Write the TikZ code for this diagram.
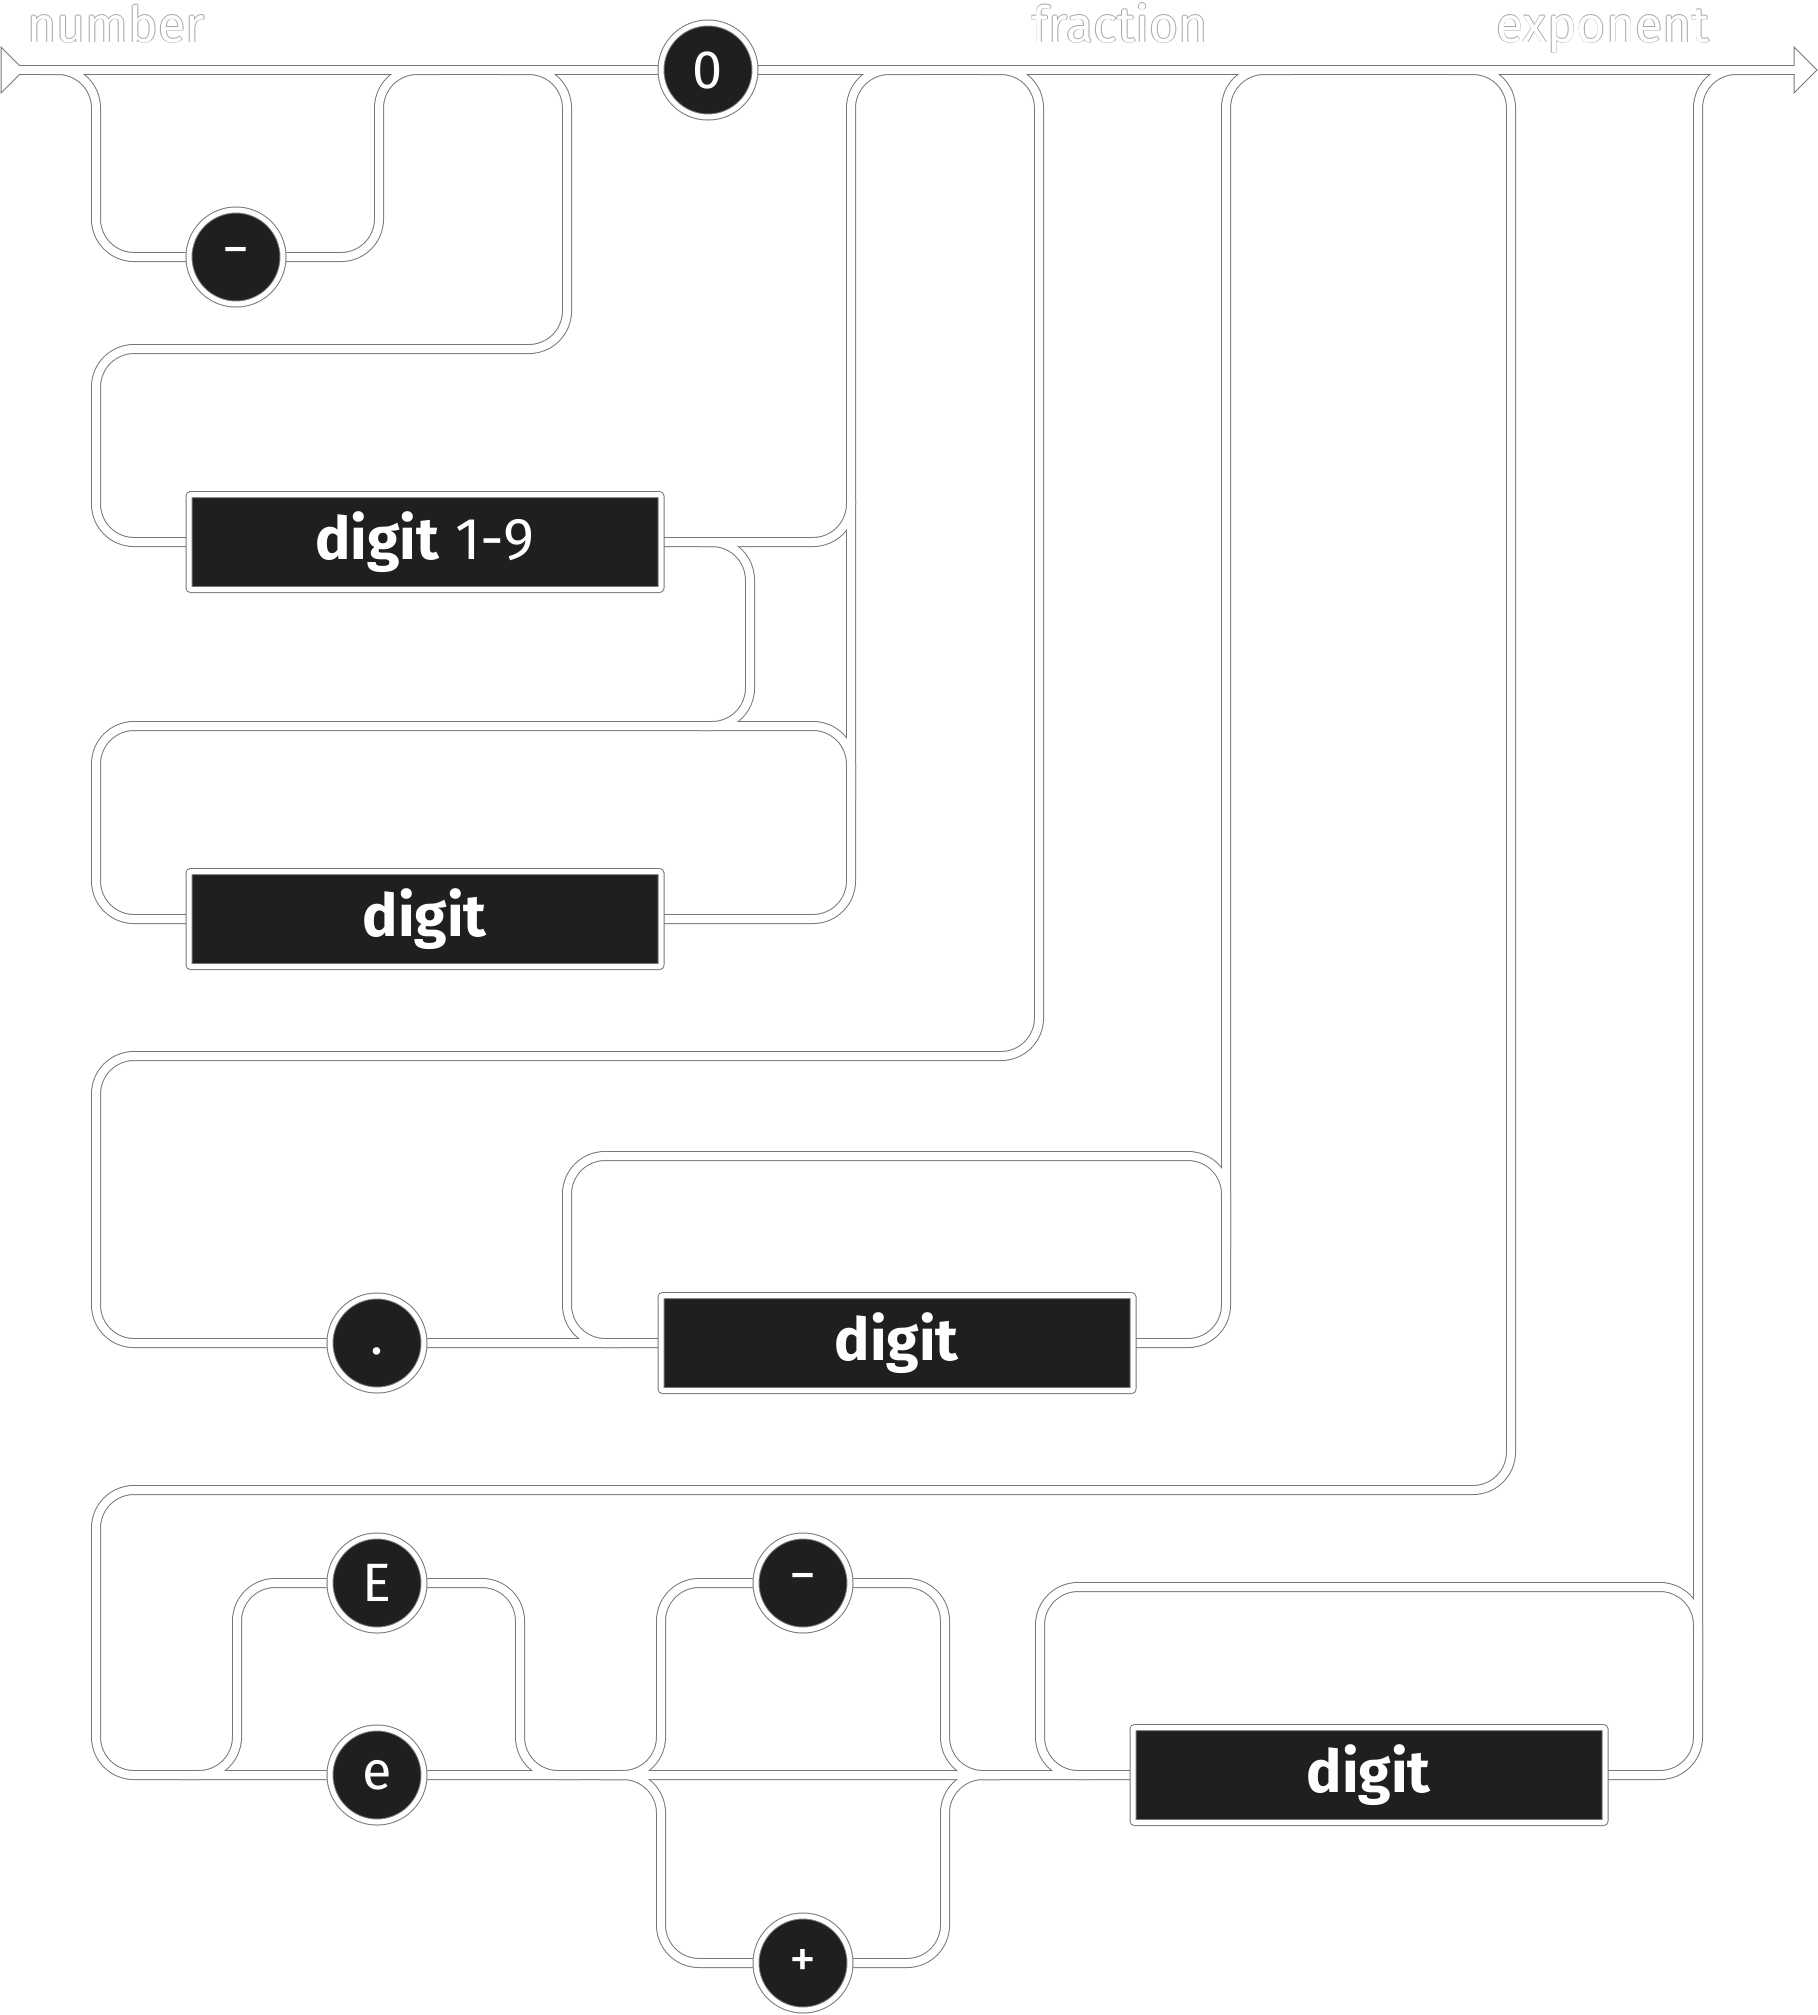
\documentclass[tikz,border=0pt]{standalone}
\usepackage{fontspec}
\setmainfont{Fira Sans}
\usepackage{tikz}

\definecolor{ink}{HTML}{1F1F1F}
\definecolor{railgray}{HTML}{7A786E}

\pgfdeclarelayer{edgelayer}
\pgfdeclarelayer{endlayer}
\pgfdeclarelayer{corelayer}
\pgfsetlayers{edgelayer,endlayer,corelayer,main}

% white letters with a thin grey rim
\newcommand{\ghost}[1]{%
  \rlap{\color{railgray!65}\kern-0.4pt#1}%
  \rlap{\color{railgray!65}\kern0.4pt#1}%
  \rlap{\color{railgray!65}\raisebox{0.4pt}{#1}}%
  \rlap{\color{railgray!65}\raisebox{-0.4pt}{#1}}%
  {\color{white}#1}}

% all tracks below the top line
\newcommand{\rails}[1]{%
  \draw[#1] (40,70) -- (96,70) |- (minus) -| (379,70) -- (440,70);
  \draw[#1] (500,70) -| (567,349) -| (96,542) -- (onenine) -| (851,70) -- (920,70);
  \draw[#1] (700,542) -| (750,726) -| (96,919) -- (intdigit) -| (851,500);
  \draw[#1] (851,800) |- (700,726);
  \draw[#1] (980,70) -| (1039,1056) -| (96,1343) -- (dot) -- (fracdigit) -| (1226,70) -- (1290,70);
  \draw[#1] (1226,1250) |- (567,1156) |- (620,1343);
  \draw[#1] (1450,70) -| (1511,1490) -| (96,1775) -- (smalle) -- (expdigit) -| (1698,70) -- (1760,70);
  \draw[#1] (180,1775) -| (237,1583) -- (bigE) -| (520,1775) -- (580,1775);
  \draw[#1] (600,1775) -| (661,1583) -- (expminus) -| (945,1775) -- (1000,1775);
  \draw[#1] (600,1775) -| (661,1963) -- (expplus) -| (945,1775) -- (1000,1775);
  \draw[#1] (1698,1680) |- (1040,1587) |- (1090,1775);
}

\begin{document}
\begin{tikzpicture}[
  x=0.5pt, y=-0.5pt,
  term/.style={circle, fill=ink, draw=railgray, double=white, double distance=2.5pt,
    line width=0.5pt, minimum size=47pt, inner sep=0pt, text=white,
    font=\fontsize{27}{32}\selectfont},
  nonterm/.style={rectangle, rounded corners=1pt, fill=ink, draw=railgray, double=white,
    double distance=2.5pt, line width=0.5pt, minimum width=236pt, minimum height=47.5pt,
    inner sep=0pt, text=white, font=\fontsize{29.5}{34}\selectfont},
  railedge/.style={draw=railgray, line width=5pt, rounded corners=19pt},
  railcore/.style={draw=white, line width=4pt, rounded corners=19pt},
  title/.style={inner sep=0pt, font=\fontsize{25}{30}\selectfont}
]
\useasboundingbox (0,0) rectangle (1818,2015);

% titles
\node[title, anchor=base west] (numlabel) at (27,42) {\ghost{number}};
\node[title, anchor=base] (fraclabel) at (1120,42) {\ghost{fraction}};
\node[title, anchor=base] (explabel) at (1603,42) {\ghost{exponent}};

% integer part
\node[term] (minus) at (236,257) {−};
\node[term] (zero) at (708,70) {0};
\node[nonterm] (onenine) at (425,542) {\textbf{digit} 1-9};
\node[nonterm] (intdigit) at (425,919) {\textbf{digit}};

% fraction
\node[term, text height=11pt, text depth=0pt] (dot) at (377,1343) {.};
\node[nonterm] (fracdigit) at (897,1343) {\textbf{digit}};

% exponent
\node[term] (bigE) at (377,1583) {E};
\node[term] (smalle) at (377,1775) {e};
\node[term] (expminus) at (803,1583) {−};
\node[term] (expplus) at (803,1963) {+};
\node[nonterm] (expdigit) at (1369,1775) {\textbf{digit}};

\begin{pgfonlayer}{edgelayer}
  \fill[white] (0,0) rectangle (1818,2015);
  \draw[railedge] (19,70) -- (1794,70);
  \rails{railedge}
\end{pgfonlayer}
\begin{pgfonlayer}{endlayer}
  \draw[railgray, fill=white, line width=0.5pt] (1,47) -- (24,70) -- (1,93) -- cycle;
  \draw[railgray, fill=white, line width=0.5pt] (1794,47) -- (1817,70) -- (1794,93) -- cycle;
\end{pgfonlayer}
\begin{pgfonlayer}{corelayer}
  \draw[railcore] (10,70) -- (1797,70);
  \rails{railcore}
\end{pgfonlayer}
\end{tikzpicture}
\end{document}
